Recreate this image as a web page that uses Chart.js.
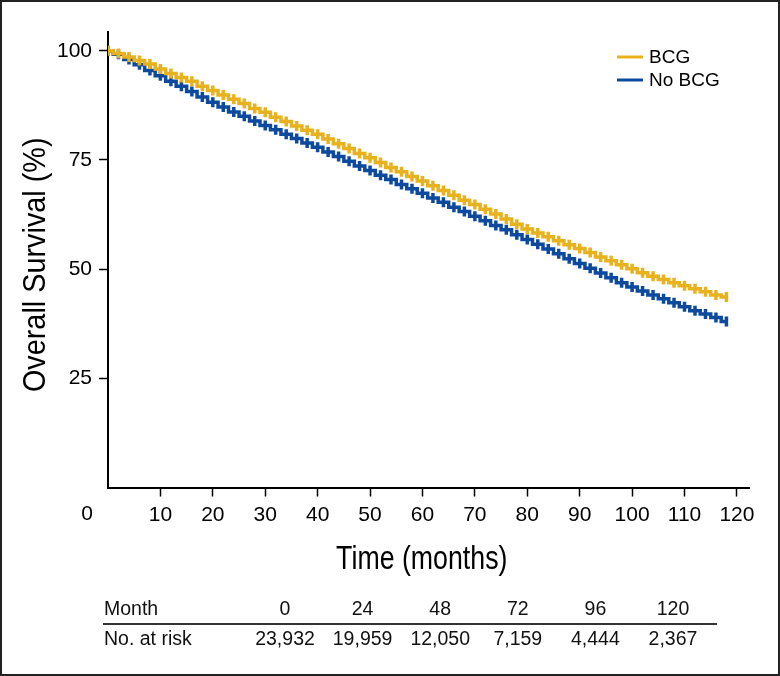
<!DOCTYPE html>
<html>
<head>
<meta charset="utf-8">
<script src="https://cdn.jsdelivr.net/npm/chart.js@4.4.1/dist/chart.umd.min.js"></script>
<style>
  html, body { margin: 0; padding: 0; background: #fff; }
  #wrap { width: 780px; height: 676px; }
</style>
</head>
<body>
<div id="wrap"><canvas id="km" width="780" height="676"></canvas></div>
<script>
// Time of each step (months)
const months = [0, 2, 4, 6, 8, 10, 12, 14, 16, 18, 20, 22, 24, 26, 28, 30, 32, 34, 36, 38,
  40, 42, 44, 46, 48, 50, 52, 54, 56, 58, 60, 62, 64, 66, 68, 70, 72, 74, 76, 78,
  80, 82, 84, 86, 88, 90, 92, 94, 96, 98, 100, 102, 104, 106, 108, 110, 112, 114, 116, 118];

// Overall survival (%)
const survBCG = [100, 99.4, 98.6, 97.8, 97.0, 95.8, 94.8, 93.9, 93.0, 91.9,
  90.9, 89.9, 88.9, 87.9, 86.8, 85.9, 84.8, 83.8, 82.8, 81.8,
  80.9, 79.8, 78.7, 77.6, 76.5, 75.5, 74.4, 73.3, 72.3, 71.2,
  70.2, 69.1, 68.0, 66.9, 65.8, 64.8, 63.7, 62.6, 61.5, 60.3,
  59.2, 58.3, 57.4, 56.5, 55.6, 54.7, 53.8, 52.8, 51.9, 51.0,
  50.1, 49.2, 48.4, 47.6, 46.9, 46.2, 45.5, 44.8, 44.1, 43.6];
const survNoBCG = [100, 99.2, 98.0, 96.8, 95.5, 94.3, 93.0, 91.9, 90.7, 89.4,
  88.2, 87.1, 86.0, 85.0, 83.9, 82.9, 81.9, 80.9, 79.9, 78.9,
  77.9, 76.8, 75.8, 74.7, 73.6, 72.6, 71.5, 70.5, 69.4, 68.4,
  67.4, 66.3, 65.3, 64.2, 63.2, 62.1, 61.1, 60.0, 59.0, 57.9,
  56.8, 55.7, 54.6, 53.5, 52.4, 51.3, 50.2, 49.1, 48.0, 46.9,
  45.9, 45.0, 44.1, 43.2, 42.3, 41.4, 40.5, 39.7, 38.9, 38.0];

const xTicks = [10, 20, 30, 40, 50, 60, 70, 80, 90, 100, 110, 120];
const yTicks = [25, 50, 75, 100];

// Number at risk table
const riskMonths = ['0', '24', '48', '72', '96', '120'];
const riskCounts = ['23,932', '19,959', '12,050', '7,159', '4,444', '2,367'];

const YELLOW = '#E8B21E';
const BLUE = '#0D4A9E';
const SANS = "'Liberation Sans', Arial, sans-serif";

function serie(values) {
  return months.map((m, i) => ({ x: m, y: values[i] }));
}

function kmDataset(label, values, color) {
  return {
    label: label,
    data: serie(values),
    borderColor: color,
    backgroundColor: color,
    borderWidth: 3.5,
    stepped: 'middle',
    pointStyle: 'line',
    rotation: 90,
    pointRadius: 5,
    pointBorderWidth: 3.5,
    pointBorderColor: color,
    fill: false
  };
}

// condensed-looking text (the original uses a narrow face)
function narrowText(ctx, text, x, y, size, squeeze, angle) {
  ctx.save();
  ctx.translate(x, y);
  ctx.rotate(angle);
  ctx.scale(squeeze, 1);
  ctx.font = size + 'px ' + SANS;
  ctx.textAlign = 'center';
  ctx.textBaseline = 'middle';
  ctx.fillStyle = '#000';
  ctx.fillText(text, 0, 0);
  ctx.restore();
}

// Frame, axis titles, origin "0", legend and the at-risk table
const extras = {
  id: 'extras',
  afterDraw(chart) {
    const ctx = chart.ctx;
    const xs = chart.scales.x;
    const area = chart.chartArea;
    ctx.save();
    ctx.strokeStyle = '#222';
    ctx.lineWidth = 2;
    ctx.strokeRect(1, 1, 778, 674);

    narrowText(ctx, 'Time (months)', (area.left + area.right) / 2 - 7, 560, 33, 0.81, 0);
    narrowText(ctx, 'Overall Survival (%)', 36, (area.top + area.bottom) / 2 + 5, 31, 0.93, -Math.PI / 2);

    ctx.fillStyle = '#000';
    ctx.font = '21px ' + SANS;
    ctx.textAlign = 'center';
    ctx.textBaseline = 'top';
    ctx.fillText('0', xs.left - 21, xs.top + 16);

    // legend
    const items = [['BCG', YELLOW], ['No BCG', BLUE]];
    ctx.font = '19px ' + SANS;
    ctx.textAlign = 'left';
    ctx.textBaseline = 'middle';
    items.forEach((it, i) => {
      const yy = 57 + i * 23;
      ctx.strokeStyle = it[1];
      ctx.lineWidth = 3;
      ctx.beginPath();
      ctx.moveTo(617, yy);
      ctx.lineTo(643, yy);
      ctx.stroke();
      ctx.fillStyle = '#000';
      ctx.fillText(it[0], 649, yy + 1);
    });

    // table
    ctx.font = '19.5px ' + SANS;
    ctx.fillStyle = '#111';
    ctx.fillText('Month', 104, 610);
    ctx.fillText('No. at risk', 104, 640);
    ctx.textAlign = 'center';
    riskMonths.forEach((m, i) => {
      const cx = 285 + i * 77.6;
      ctx.fillText(m, cx, 610);
      ctx.fillText(riskCounts[i], cx, 640);
    });
    ctx.strokeStyle = '#333';
    ctx.lineWidth = 2;
    ctx.beginPath();
    ctx.moveTo(103, 624);
    ctx.lineTo(717, 624);
    ctx.stroke();
    ctx.restore();
  }
};

const chart = new Chart(document.getElementById('km'), {
  type: 'line',
  data: {
    datasets: [
      kmDataset('BCG', survBCG, YELLOW),
      kmDataset('No BCG', survNoBCG, BLUE)
    ]
  },
  options: {
    responsive: false,
    animation: false,
    layout: { padding: { left: 0, top: 32, right: 30.5, bottom: 86 } },
    plugins: { legend: { display: false }, tooltip: { enabled: false } },
    scales: {
      x: {
        type: 'linear',
        min: 0,
        max: 122.4,
        afterBuildTicks: s => { s.ticks = xTicks.map(v => ({ value: v })); },
        afterFit: s => { s.height = 102.5; },
        ticks: { color: '#000', font: { family: SANS, size: 21 }, padding: 6, maxRotation: 0, autoSkip: false },
        grid: { drawOnChartArea: false, tickLength: 9, tickColor: '#000', tickWidth: 1.5 },
        border: { color: '#000', width: 2 }
      },
      y: {
        min: 0,
        max: 104.3,
        afterBuildTicks: s => { s.ticks = yTicks.map(v => ({ value: v })); },
        afterFit: s => { s.width = 108; },
        ticks: { color: '#000', font: { family: SANS, size: 21 }, padding: 7 },
        grid: { drawOnChartArea: false, tickLength: 9, tickColor: '#000', tickWidth: 1.5 },
        border: { color: '#000', width: 2 }
      }
    }
  },
  plugins: [extras]
});
</script>
</body>
</html>
